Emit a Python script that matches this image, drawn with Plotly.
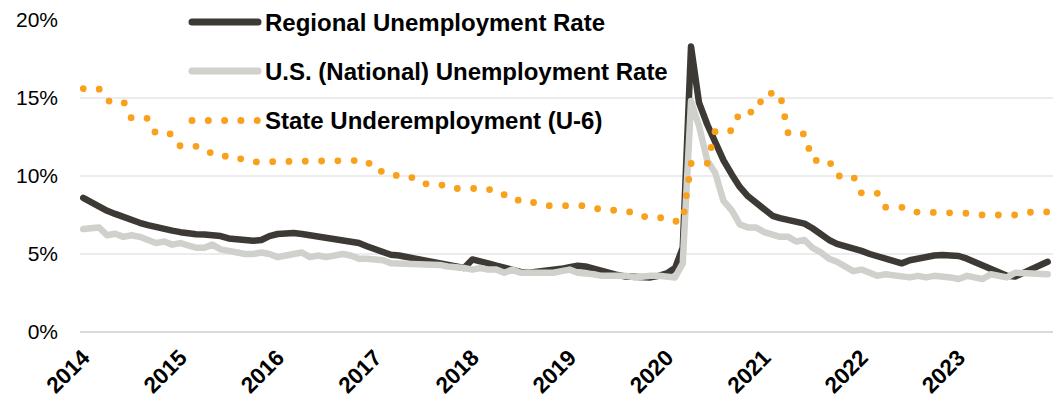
import plotly.graph_objects as go
import pandas as pd

# ---------------- data ----------------
months = pd.date_range("2014-01-01", "2023-12-01", freq="MS")

regional_rate = [
    8.6, 8.3, 8.0, 7.77, 7.57, 7.35, 7.2, 7.0, 6.85, 6.7, 6.6, 6.5,          # 2014
    6.4, 6.3, 6.26, 6.25, 6.25, 6.15, 6.0, 5.95, 5.85, 5.85, 5.9, 6.15,      # 2015
    6.28, 6.35, 6.35, 6.28, 6.2, 6.1, 6.0, 5.9, 5.83, 5.8, 5.7, 5.5,         # 2016
    5.3, 5.05, 4.95, 4.9, 4.8, 4.7, 4.65, 4.55, 4.45, 4.35, 4.25, 4.1,       # 2017
    4.65, 4.55, 4.4, 4.25, 4.1, 3.95, 3.85, 3.8, 3.85, 3.85, 3.95, 4.05,     # 2018
    4.15, 4.25, 4.2, 4.05, 3.85, 3.75, 3.65, 3.55, 3.5, 3.5, 3.5, 3.6,       # 2019
    3.75, 4.1, 5.4, 18.3, 14.7, 13.3, 12.1, 11.0, 10.1, 9.3, 8.7, 8.25,      # 2020
    7.8, 7.45, 7.3, 7.2, 7.1, 6.95, 6.65, 6.25, 5.9, 5.65, 5.5, 5.45,        # 2021
    5.2, 5.0, 4.85, 4.72, 4.6, 4.4, 4.6, 4.72, 4.82, 4.9, 4.94, 4.94,        # 2022
    4.87, 4.7, 4.5, 4.3, 4.05, 3.8, 3.6, 3.55, 3.8, 4.1, 4.35, 4.5,          # 2023
]

national_rate = [
    6.6, 6.7, 6.7, 6.2, 6.3, 6.1, 6.2, 6.1, 5.9, 5.7, 5.8, 5.6,              # 2014
    5.7, 5.5, 5.4, 5.4, 5.6, 5.3, 5.2, 5.1, 5.0, 5.0, 5.1, 5.0,              # 2015
    4.8, 4.9, 5.0, 5.1, 4.8, 4.9, 4.8, 4.9, 5.0, 4.9, 4.7, 4.7,              # 2016
    4.7, 4.6, 4.4, 4.4, 4.4, 4.3, 4.3, 4.4, 4.3, 4.2, 4.2, 4.1,              # 2017
    4.0, 4.1, 4.0, 4.0, 3.8, 4.0, 3.8, 3.8, 3.7, 3.8, 3.8, 3.9,              # 2018
    4.0, 3.8, 3.8, 3.7, 3.6, 3.6, 3.7, 3.6, 3.5, 3.6, 3.6, 3.6,              # 2019
    3.5, 3.5, 4.4, 14.8, 13.2, 11.0, 10.2, 8.4, 7.8, 6.9, 6.7, 6.7,          # 2020
    6.4, 6.2, 6.1, 6.1, 5.8, 5.9, 5.4, 5.1, 4.7, 4.5, 4.2, 3.9,              # 2021
    4.0, 3.8, 3.6, 3.7, 3.6, 3.6, 3.5, 3.6, 3.5, 3.6, 3.6, 3.5,              # 2022
    3.4, 3.6, 3.5, 3.4, 3.7, 3.6, 3.5, 3.8, 3.8, 3.8, 3.7, 3.7,              # 2023
]

# state U-6 (quarterly estimate, shown for each month of its quarter)
state_u6 = [
    15.6, 15.6, 15.6, 14.8, 14.8, 14.8, 13.7, 13.7, 13.7, 12.7, 12.7, 12.7,  # 2014
    11.9, 11.9, 11.9, 11.5, 11.5, 11.5, 11.1, 11.1, 11.1, 10.9, 10.9, 10.9,  # 2015
    11.0, 11.0, 11.0, 11.0, 11.0, 11.0, 11.0, 11.0, 11.0, 11.0, 11.0, 11.0,  # 2016
    10.3, 10.3, 10.3, 9.9, 9.9, 9.9, 9.5, 9.5, 9.5, 9.2, 9.2, 9.2,           # 2017
    9.2, 9.2, 9.2, 8.8, 8.8, 8.8, 8.3, 8.3, 8.3, 8.1, 8.1, 8.1,              # 2018
    8.1, 8.1, 8.1, 7.9, 7.9, 7.9, 7.7, 7.7, 7.7, 7.4, 7.4, 7.4,              # 2019
    7.1, 7.1, 7.1, 10.8, 10.8, 10.8, 12.9, 12.9, 12.9, 14.1, 14.1, 14.1,     # 2020
    15.3, 15.3, 15.3, 12.7, 12.7, 12.7, 11.0, 11.0, 11.0, 10.0, 10.0, 10.0,  # 2021
    8.9, 8.9, 8.9, 8.0, 8.0, 8.0, 7.7, 7.7, 7.7, 7.7, 7.7, 7.7,              # 2022
    7.6, 7.6, 7.6, 7.5, 7.5, 7.5, 7.5, 7.5, 7.5, 7.7, 7.7, 7.7,              # 2023
]

series_names = [
    "Regional Unemployment Rate",
    "U.S. (National) Unemployment Rate",
    "State Underemployment (U-6)",
]
year_ticks = [f"{y}-01-01" for y in range(2014, 2024)]
year_labels = [str(y) for y in range(2014, 2024)]
y_ticks = [0, 5, 10, 15, 20]

# ---------------- style ----------------
DARK = "#3d3935"
LIGHT = "#d0d1cc"
ORANGE = "#f9a11b"
FONT = "Arial, Liberation Sans, sans-serif"
DOT_DASH = "0px,16.3px"
LW = 6.5

fig = go.Figure()
fig.add_trace(go.Scatter(x=months, y=regional_rate, mode="lines", name=series_names[0],
                         line=dict(color=DARK, width=LW), showlegend=False))
fig.add_trace(go.Scatter(x=months, y=national_rate, mode="lines", name=series_names[1],
                         line=dict(color=LIGHT, width=LW), showlegend=False))
fig.add_trace(go.Scatter(x=months, y=state_u6, mode="lines", name=series_names[2],
                         line=dict(color=ORANGE, width=6.8, dash=DOT_DASH), showlegend=False))

# ---------------- custom legend ----------------
PLOT_L, PLOT_W = 80, 973
PLOT_T, PLOT_H = 20, 311.7
def px_x(v):
    return (v - PLOT_L) / PLOT_W
def px_y(v):
    return (PLOT_T + PLOT_H - v) / PLOT_H

legend_rows = [22, 71, 120.5]
legend_colors = [DARK, LIGHT, ORANGE]
legend_dash = ["solid", "solid", DOT_DASH]
shapes = []
annotations = []
for name, yy, col, dsh in zip(series_names, legend_rows, legend_colors, legend_dash):
    shapes.append(dict(type="line", xref="paper", yref="paper",
                       x0=px_x(192), x1=px_x(258), y0=px_y(yy), y1=px_y(yy),
                       line=dict(color=col, width=7, dash=dsh)))
    annotations.append(dict(xref="paper", yref="paper", x=px_x(263), y=px_y(yy),
                            xanchor="left", yanchor="middle", showarrow=False,
                            text=f"<b>{name}</b>",
                            font=dict(family=FONT, size=24, color="#000000")))

fig.update_layout(
    width=1055, height=402,
    margin=dict(l=PLOT_L, r=1055 - PLOT_L - PLOT_W, t=PLOT_T, b=402 - PLOT_T - PLOT_H),
    paper_bgcolor="white", plot_bgcolor="white",
    font=dict(family=FONT, color="#000000"),
    shapes=shapes, annotations=annotations,
    xaxis=dict(
        type="date",
        range=["2013-12-20", "2023-12-21"],
        tickmode="array", tickvals=year_ticks,
        ticktext=[f"<b>{t}</b>" for t in year_labels],
        tickangle=-45, showgrid=False, zeroline=False,
        showline=False, ticks="", automargin=False, ticklabelstandoff=7,
        tickfont=dict(family=FONT, size=22.5, color="#000000"),
    ),
    yaxis=dict(
        range=[0, 20], tickmode="array", tickvals=y_ticks,
        ticktext=[f"{v}%" for v in y_ticks],
        showgrid=True, gridcolor="#ececec", gridwidth=2,
        zeroline=True, zerolinecolor="#d9d9d9", zerolinewidth=2,
        showline=False, ticks="", ticklabelstandoff=21, automargin=False,
        tickfont=dict(family=FONT, size=21, color="#000000"),
    ),
)

post = """
var s = document.createElement('style');
s.textContent = 'html, body {margin: 0; padding: 0;} .scatterlayer path.js-line, .shapelayer path {stroke-linecap: round; stroke-linejoin: round;}';
document.head.appendChild(s);
"""
fig.write_html("out.html", config={"displayModeBar": False}, post_script=post)
